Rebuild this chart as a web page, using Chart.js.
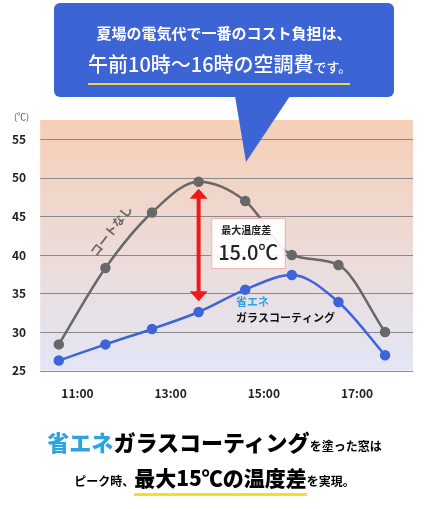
<!DOCTYPE html>
<html><head><meta charset="utf-8">
<script src="https://cdn.jsdelivr.net/npm/chart.js@4"></script>
<style>
body{margin:0;width:429px;height:509px;background:#fff;font-family:"Noto Sans CJK JP",sans-serif;position:relative;overflow:hidden}
#c{position:absolute;left:0;top:0}
.call{position:absolute;left:54px;top:3px;width:340px;height:94px;background:#3c64d4;border-radius:6px;color:#fff;text-align:center}
.l1{position:absolute;top:19px;width:100%;font-size:15px;font-weight:700}
.l2{position:absolute;top:46px;left:34px;font-size:20px;font-weight:500;white-space:nowrap}
.l2 small{font-size:13px}
.ul{position:absolute;left:34px;top:80px;width:262px;height:2px;background:#f1d44a}
svg{position:absolute;left:0;top:0}
.b1{position:absolute;top:425px;left:0;width:429px;text-align:center;font-weight:900;font-size:22px;white-space:nowrap}
.b1 .bl{color:#2ea3e3}.b1 small{font-size:12px;font-weight:700}
.b2{position:absolute;top:462px;left:0;width:429px;text-align:center;font-weight:900;font-size:21px;white-space:nowrap}
.b2 small{font-size:12px;font-weight:700}
.b2 .u{border-bottom:3px solid #f7dd2a;padding-bottom:1px}
</style></head><body>
<canvas id="c" width="429" height="509"></canvas>
<svg width="429" height="509"><polygon points="235,96 290,96 246,162" fill="#3c64d4"/></svg>
<div class="call"><div class="l1">夏場の電気代で一番のコスト負担は、</div>
<div class="l2">午前10時～16時の空調費<small>です。</small></div><div class="ul"></div></div>
<div class="b1"><span class="bl">省エネ</span>ガラスコーティング<small>を塗った窓は</small></div>
<div class="b2"><small>ピーク時、</small><span class="u">最大15℃の温度差</span><small>を実現。</small></div>
<script>
const hours=[10.6,11.6,12.6,13.6,14.6,15.6,16.6,17.6];
const noCoat=[28.4,38.3,45.5,49.5,47.0,40.0,38.7,30.0];
const coated=[26.3,28.4,30.4,32.6,35.5,37.4,33.9,27.0];
const xTicks=[11,13,15,17];
const xTickLabels=['11:00','13:00','15:00','17:00'];
const yTicks=[25,30,35,40,45,50,55];
const maxDiff='15.0℃';
const toPts=a=>a.map((y,i)=>({x:hours[i],y}));
const deco={id:'deco',
beforeDatasetsDraw(ch){const {ctx,chartArea:a}=ch;const g=ctx.createLinearGradient(0,a.top,0,a.bottom);
g.addColorStop(0,'#f6cfb6');g.addColorStop(1,'#e3e6f6');ctx.save();ctx.fillStyle=g;ctx.fillRect(a.left,a.top,a.right-a.left,a.bottom-a.top);
ctx.strokeStyle='#8a8a8a';ctx.lineWidth=1;const ys=ch.scales.y;
yTicks.forEach(v=>{const p=Math.round(ys.getPixelForValue(v))+0.5;ctx.beginPath();ctx.moveTo(a.left,p);ctx.lineTo(a.right,p);ctx.stroke();});
ctx.fillStyle='#555';ctx.font='9px "Noto Sans CJK JP"';ctx.fillText('(℃)',14,a.top);ctx.restore();},
afterDatasetsDraw(ch){const {ctx}=ch;const xs=ch.scales.x,ys=ch.scales.y;ctx.save();
const ax=xs.getPixelForValue(hours[3]),t=ys.getPixelForValue(48.6),b=ys.getPixelForValue(34.0);
ctx.strokeStyle='#f01818';ctx.fillStyle='#f01818';ctx.lineWidth=4;ctx.beginPath();ctx.moveTo(ax,t+8);ctx.lineTo(ax,b-8);ctx.stroke();
ctx.beginPath();ctx.moveTo(ax,t);ctx.lineTo(ax-9,t+10);ctx.lineTo(ax+9,t+10);ctx.fill();
ctx.beginPath();ctx.moveTo(ax,b);ctx.lineTo(ax-9,b-10);ctx.lineTo(ax+9,b-10);ctx.fill();
const bx=xs.getPixelForValue(13.87),bx2=xs.getPixelForValue(15.45),by=ys.getPixelForValue(44.8),by2=ys.getPixelForValue(38.3);
ctx.fillStyle='rgba(255,255,255,0.92)';ctx.fillRect(bx,by,bx2-bx,by2-by);ctx.strokeStyle='#f0b0b0';ctx.lineWidth=1;ctx.strokeRect(bx+.5,by+.5,bx2-bx,by2-by);
ctx.fillStyle='#222';ctx.font='bold 10px "Noto Sans CJK JP"';ctx.fillText('最大温度差',bx+10,by+16);
ctx.font='500 20px "Noto Sans CJK JP"';ctx.fillText(maxDiff,bx+7,by+42);
ctx.font='bold 11px "Noto Sans CJK JP"';ctx.fillStyle='#2ea3e3';
const lx=xs.getPixelForValue(14.4),ly=ys.getPixelForValue(33.4);ctx.fillText('省エネ',lx,ly);
ctx.fillStyle='#111';ctx.fillText('ガラスコーティング',lx,ly+16);
ctx.translate(xs.getPixelForValue(11.8),ys.getPixelForValue(42.8));ctx.rotate(-0.92);ctx.fillStyle='#666';ctx.font='bold 12px "Noto Sans CJK JP"';ctx.fillText('コートなし',-30,0);
ctx.restore();}};
new Chart(document.getElementById('c'),{type:'line',
data:{datasets:[
{data:toPts(noCoat),borderColor:'#686868',backgroundColor:'#686868',borderWidth:2.5,pointRadius:4,tension:0.4,cubicInterpolationMode:'monotone'},
{data:toPts(coated),borderColor:'#3f63d8',backgroundColor:'#3f63d8',borderWidth:2.5,pointRadius:4,tension:0.4,cubicInterpolationMode:'monotone'}]},
plugins:[deco],
options:{responsive:false,animation:false,layout:{padding:{left:6,right:16,top:120,bottom:100}},
plugins:{legend:{display:false},tooltip:{enabled:false}},
scales:{x:{type:'linear',min:10.2,max:18.2,grid:{display:false},border:{display:false},
afterBuildTicks:s=>{s.ticks=xTicks.map(v=>({value:v}));},
ticks:{callback:v=>xTickLabels[xTicks.indexOf(v)],color:'#222',font:{family:'Noto Sans CJK JP',size:12,weight:'bold'},maxRotation:0,padding:8}},
y:{min:25,max:57.5,grid:{display:false},border:{display:false},
afterBuildTicks:s=>{s.ticks=yTicks.map(v=>({value:v}));},
ticks:{color:'#222',font:{family:'Noto Sans CJK JP',size:12,weight:'bold'},padding:6}}}}});
</script></body></html>
